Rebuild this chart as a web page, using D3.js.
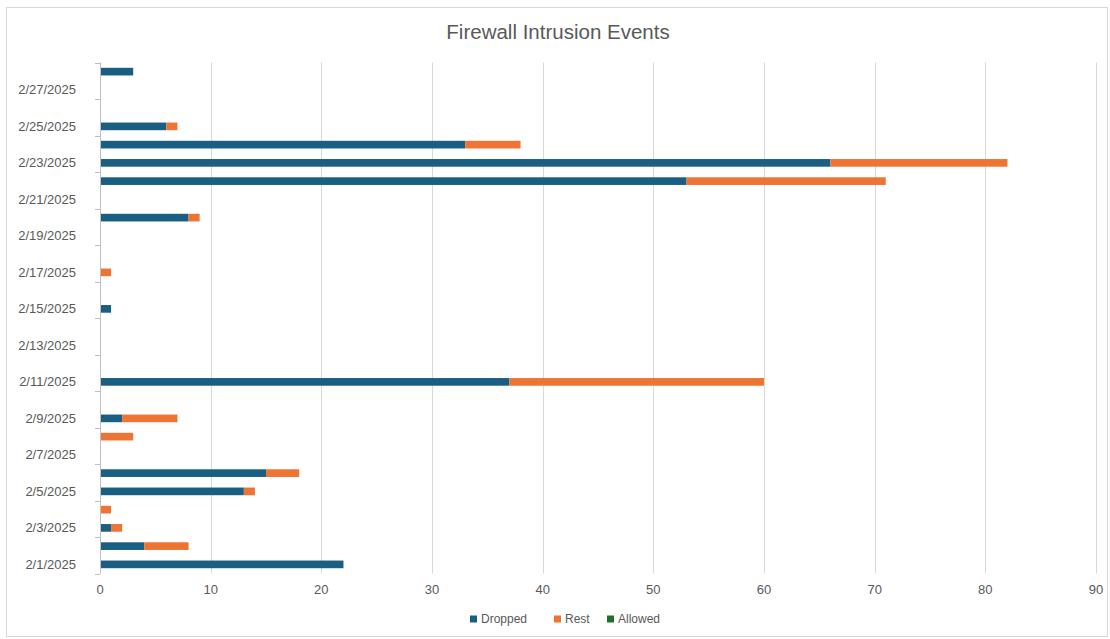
<!DOCTYPE html>
<html>
<head>
<meta charset="utf-8">
<script src="https://cdn.jsdelivr.net/npm/d3@7"></script>
<style>
  body { margin: 0; background: #fff; font-family: "Liberation Sans", Arial, sans-serif; }
  svg text { fill: #595959; }
</style>
</head>
<body>
<svg id="chart" width="1110" height="639"></svg>
<script>
const dates = [
  "2/1/2025", "2/2/2025", "2/3/2025", "2/4/2025", "2/5/2025", "2/6/2025", "2/7/2025",
  "2/8/2025", "2/9/2025", "2/10/2025", "2/11/2025", "2/12/2025", "2/13/2025", "2/14/2025",
  "2/15/2025", "2/16/2025", "2/17/2025", "2/18/2025", "2/19/2025", "2/20/2025", "2/21/2025",
  "2/22/2025", "2/23/2025", "2/24/2025", "2/25/2025", "2/26/2025", "2/27/2025", "2/28/2025"
];
const dropped = [22, 4, 1, 0, 13, 15, 0, 0, 2, 0, 37, 0, 0, 0, 1, 0, 0, 0, 0, 8, 0, 53, 66, 33, 6, 0, 0, 3];
const rest    = [0, 4, 1, 1, 1, 3, 0, 3, 5, 0, 23, 0, 0, 0, 0, 0, 1, 0, 0, 1, 0, 18, 16, 5, 1, 0, 0, 0];
const allowed = [0, 0, 0, 0, 0, 0, 0, 0, 0, 0, 0, 0, 0, 0, 0, 0, 0, 0, 0, 0, 0, 0, 0, 0, 0, 0, 0, 0];
const seriesNames = ["Dropped", "Rest", "Allowed"];
const seriesColors = ["#1a5e82", "#ed7432", "#1f6e2c"];
const xTicks = [0, 10, 20, 30, 40, 50, 60, 70, 80, 90];

const svg = d3.select("#chart");
const plotLeft = 100, plotRight = 1096, plotTop = 62.5, plotBottom = 573.5;

// outer chart border
svg.append("rect")
  .attr("x", 6.5).attr("y", 7.5)
  .attr("width", 1101).attr("height", 629)
  .attr("fill", "#fff").attr("stroke", "#d9d9d9");

svg.append("text")
  .attr("x", 558).attr("y", 39)
  .attr("text-anchor", "middle")
  .attr("font-size", 20.5)
  .text("Firewall Intrusion Events");

const x = d3.scaleLinear().domain([0, 90]).range([plotLeft, plotRight]);
const y = d3.scaleBand()
  .domain(dates.slice().reverse())
  .range([plotTop, plotBottom])
  .paddingInner(0.58)
  .paddingOuter(0.29);

// vertical gridlines
svg.append("g")
  .selectAll("line")
  .data(xTicks.slice(1))
  .join("line")
  .attr("x1", (d) => Math.round(x(d)) + 0.5)
  .attr("x2", (d) => Math.round(x(d)) + 0.5)
  .attr("y1", plotTop).attr("y2", plotBottom)
  .attr("stroke", "#d9d9d9");

// x tick labels
svg.append("g")
  .selectAll("text")
  .data(xTicks)
  .join("text")
  .attr("x", (d) => x(d))
  .attr("y", 594)
  .attr("text-anchor", "middle")
  .attr("font-size", 13)
  .text((d) => d);

// stacked bars
const rows = dates.map((d, i) => ({ date: d, Dropped: dropped[i], Rest: rest[i], Allowed: allowed[i] }));
const stack = d3.stack().keys(seriesNames)(rows);

svg.append("g")
  .selectAll("g")
  .data(stack)
  .join("g")
  .attr("fill", (d, i) => seriesColors[i])
  .selectAll("rect")
  .data((d) => d.filter((p) => p[1] > p[0]))
  .join("rect")
  .attr("x", (p) => x(p[0]))
  .attr("y", (p) => y(p.data.date))
  .attr("width", (p) => x(p[1]) - x(p[0]))
  .attr("height", y.bandwidth());

// y axis line and ticks every two categories
const step = y.step();
const tickYs = d3.range(0, dates.length + 1, 2).map((i) => plotTop + i * step);
svg.append("line")
  .attr("x1", plotLeft + 0.5).attr("x2", plotLeft + 0.5)
  .attr("y1", plotTop).attr("y2", plotBottom)
  .attr("stroke", "#bfbfbf");
svg.append("g")
  .selectAll("line")
  .data(tickYs)
  .join("line")
  .attr("x1", plotLeft - 5).attr("x2", plotLeft)
  .attr("y1", (d) => Math.round(d) + 0.5)
  .attr("y2", (d) => Math.round(d) + 0.5)
  .attr("stroke", "#bfbfbf");

// y labels on every other date
svg.append("g")
  .selectAll("text")
  .data(dates.filter((d, i) => i % 2 === 0))
  .join("text")
  .attr("x", 76)
  .attr("y", (d) => y(d) + y.bandwidth() / 2)
  .attr("dy", "0.35em")
  .attr("text-anchor", "end")
  .attr("font-size", 13)
  .text((d) => d);

// legend
const legendX = [470, 554, 607];
const legend = svg.append("g")
  .selectAll("g")
  .data(seriesNames)
  .join("g")
  .attr("transform", (d, i) => `translate(${legendX[i]},619)`);
legend.append("rect")
  .attr("x", 0).attr("y", -3.5)
  .attr("width", 7).attr("height", 7)
  .attr("fill", (d, i) => seriesColors[i]);
legend.append("text")
  .attr("x", 11)
  .attr("dy", "0.35em")
  .attr("font-size", 12)
  .text((d) => d);
</script>
</body>
</html>
